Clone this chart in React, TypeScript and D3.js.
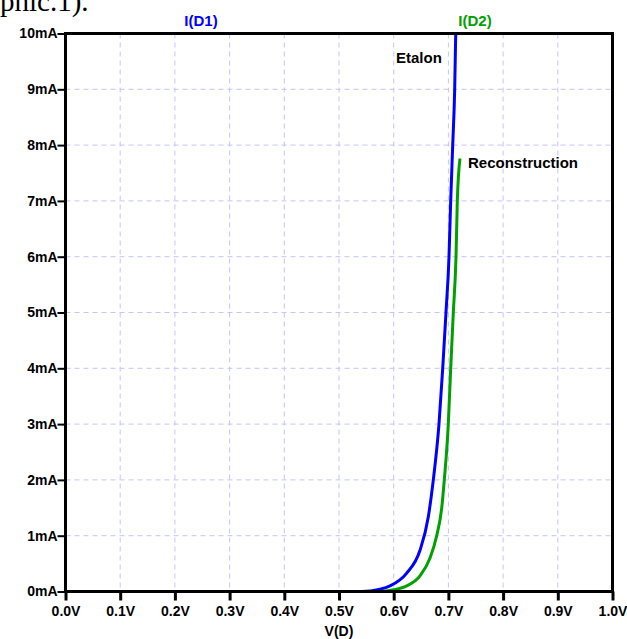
import { useEffect, useRef } from "react";
import * as d3 from "d3";

// axis ticks
const xTicks = [0, 0.1, 0.2, 0.3, 0.4, 0.5, 0.6, 0.7, 0.8, 0.9, 1.0];
const yTicks = [0, 1, 2, 3, 4, 5, 6, 7, 8, 9, 10];

// I(D1) - Etalon (V, mA)
const etalonV = [0, 0.5, 0.5415, 0.575, 0.5933, 0.6238, 0.6481, 0.6633, 0.6724, 0.6828, 0.6896, 0.6956, 0.7011, 0.7042, 0.7079, 0.7115, 0.7134];
const etalonI = [0, 0, 0, 0.04, 0.1, 0.33, 0.74, 1.34, 2.0, 3.0, 4.0, 5.0, 6.0, 7.0, 8.0, 9.0, 10.0];

// I(D2) - Reconstruction
const reconV = [0, 0.55, 0.575, 0.6, 0.6238, 0.6481, 0.6664, 0.6786, 0.6878, 0.6925, 0.6998, 0.7042, 0.709, 0.7139, 0.7163, 0.7212];
const reconI = [0, 0, 0, 0.03, 0.1, 0.28, 0.6, 1.0, 1.5, 2.0, 3.0, 4.0, 5.0, 6.0, 7.0, 7.76];

const App = () => {
  const ref = useRef(null);

  useEffect(() => {
    const width = 627,
      height = 639;
    const margin = { top: 33.5, right: 14.5, bottom: 47.5, left: 65.5 };
    const font = "'Liberation Sans', Arial, sans-serif";

    const svg = d3.select(ref.current);
    svg.selectAll("*").remove();

    const x = d3.scaleLinear().domain([0, 1]).range([margin.left, width - margin.right]);
    const y = d3.scaleLinear().domain([0, 10]).range([height - margin.bottom, margin.top]);

    // caption text cut off from the page above
    svg
      .append("text")
      .attr("x", 0)
      .attr("y", 11)
      .attr("font-family", "'Liberation Serif', 'Times New Roman', serif")
      .attr("font-size", 29)
      .text("phic.1).");

    // grid
    const grid = svg.append("g").attr("stroke", "#c4c4ff").attr("stroke-dasharray", "5,4");
    grid
      .selectAll("line.v")
      .data(xTicks.slice(1, -1))
      .join("line")
      .attr("x1", (d) => x(d))
      .attr("x2", (d) => x(d))
      .attr("y1", y(10))
      .attr("y2", y(0));
    grid
      .selectAll("line.h")
      .data(yTicks.slice(1, -1))
      .join("line")
      .attr("x1", x(0))
      .attr("x2", x(1))
      .attr("y1", (d) => y(d))
      .attr("y2", (d) => y(d));

    // curves
    const line = d3
      .line()
      .x((d) => x(d[0]))
      .y((d) => y(d[1]))
      .curve(d3.curveMonotoneX);

    svg
      .append("path")
      .datum(etalonV.map((v, i) => [v, etalonI[i]]))
      .attr("fill", "none")
      .attr("stroke", "#0000ff")
      .attr("stroke-width", 3)
      .attr("d", line);

    svg
      .append("path")
      .datum(reconV.map((v, i) => [v, reconI[i]]))
      .attr("fill", "none")
      .attr("stroke", "#00a000")
      .attr("stroke-width", 3)
      .attr("d", line);

    // frame
    svg
      .append("rect")
      .attr("x", x(0))
      .attr("y", y(10))
      .attr("width", x(1) - x(0))
      .attr("height", y(0) - y(10))
      .attr("fill", "none")
      .attr("stroke", "black")
      .attr("stroke-width", 3);

    // x axis
    const xAxis = svg
      .append("g")
      .attr("transform", `translate(0,${y(0)})`)
      .call(
        d3
          .axisBottom(x)
          .tickValues(xTicks)
          .tickSize(9)
          .tickPadding(6)
          .tickFormat((d) => d3.format(".1f")(d) + "V")
      );
    xAxis.select(".domain").remove();
    xAxis.selectAll("line").attr("stroke-width", 3);
    xAxis
      .selectAll("text")
      .attr("font-family", font)
      .attr("font-weight", "bold")
      .attr("font-size", 14)
      .attr("fill", "black");

    // y axis
    const yAxis = svg
      .append("g")
      .attr("transform", `translate(${x(0)},0)`)
      .call(
        d3
          .axisLeft(y)
          .tickValues(yTicks)
          .tickSize(8)
          .tickPadding(0)
          .tickFormat((d) => d + "mA")
      );
    yAxis.select(".domain").remove();
    yAxis.selectAll("line").attr("stroke-width", 2);
    yAxis
      .selectAll("text")
      .attr("font-family", font)
      .attr("font-weight", "bold")
      .attr("font-size", 14)
      .attr("fill", "black");

    // axis title
    svg
      .append("text")
      .attr("x", (x(0) + x(1)) / 2)
      .attr("y", 636)
      .attr("text-anchor", "middle")
      .attr("font-family", font)
      .attr("font-weight", "bold")
      .attr("font-size", 14)
      .text("V(D)");

    // trace names
    svg
      .append("text")
      .attr("x", 201)
      .attr("y", 26)
      .attr("text-anchor", "middle")
      .attr("font-family", font)
      .attr("font-weight", "bold")
      .attr("font-size", 15)
      .attr("fill", "#0000ff")
      .text("I(D1)");
    svg
      .append("text")
      .attr("x", 475)
      .attr("y", 26)
      .attr("text-anchor", "middle")
      .attr("font-family", font)
      .attr("font-weight", "bold")
      .attr("font-size", 15)
      .attr("fill", "#00a000")
      .text("I(D2)");

    // annotations
    svg
      .append("text")
      .attr("x", 396)
      .attr("y", 63)
      .attr("font-family", font)
      .attr("font-weight", "bold")
      .attr("font-size", 15)
      .text("Etalon");
    svg
      .append("text")
      .attr("x", 468)
      .attr("y", 168)
      .attr("font-family", font)
      .attr("font-weight", "bold")
      .attr("font-size", 15)
      .text("Reconstruction");
  }, []);

  return (
    <svg
      ref={ref}
      width={627}
      height={639}
      style={{ position: "absolute", left: 0, top: 0, background: "white" }}
    />
  );
};

export default App;
